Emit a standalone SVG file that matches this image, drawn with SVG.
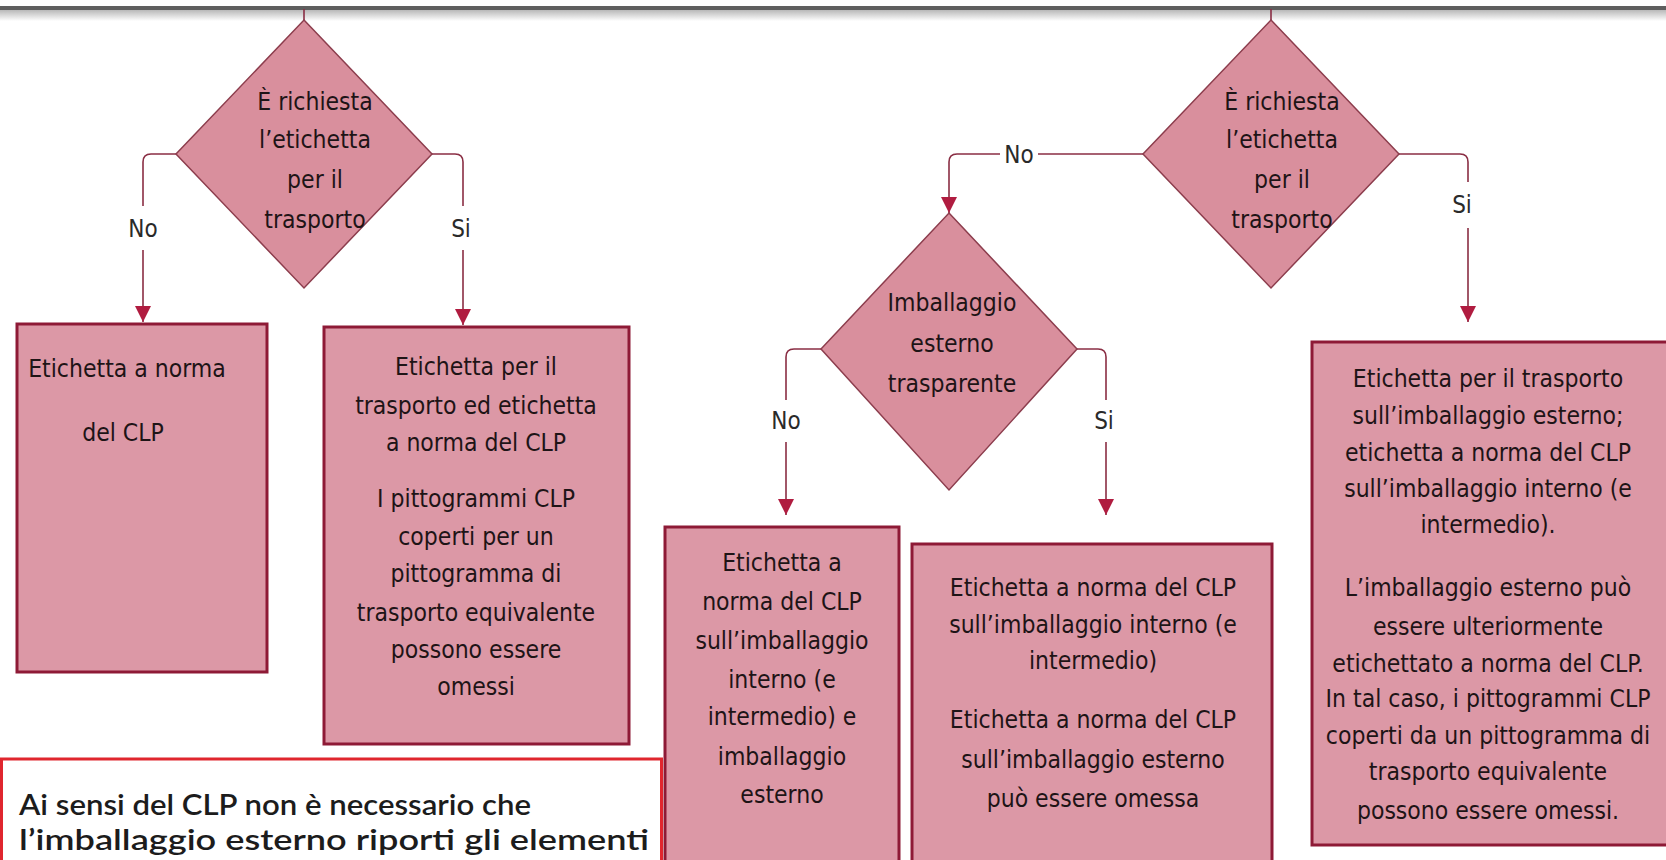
<svg xmlns="http://www.w3.org/2000/svg" width="1666" height="860" viewBox="0 0 1666 860">
<defs>
<style>
.dia{fill:#d98f9d;stroke:#8c3d4d;stroke-width:1.5}
.box{fill:#dc98a6;stroke:#8e1a36;stroke-width:3}
.t{font-family:"DejaVu Sans Condensed","DejaVu Sans",sans-serif;font-stretch:condensed;font-size:24.5px;fill:#1e1416;text-anchor:middle}
.lbl{font-family:"DejaVu Sans Condensed","DejaVu Sans",sans-serif;font-stretch:condensed;font-size:24px;fill:#2a2a2a;text-anchor:middle}
.conn{fill:none;stroke:#8a2e44;stroke-width:1.6}
.note{font-family:Lato,"Liberation Sans",sans-serif;font-size:28px;font-weight:600;fill:#1c1c1c}
</style>
<marker id="arr" viewBox="0 0 16 16" refX="16" refY="8" markerWidth="16" markerHeight="16" orient="auto" markerUnits="userSpaceOnUse">
<path d="M0,0 L16,8 L0,16 z" fill="#b01c40"/>
</marker>
<linearGradient id="shade" x1="0" y1="0" x2="0" y2="1">
<stop offset="0" stop-color="#b8b8b8"/>
<stop offset="1" stop-color="#ffffff"/>
</linearGradient>
</defs>
<rect width="1666" height="860" fill="#ffffff"/>
<g id="topbar">
<rect x="0" y="6" width="1666" height="4" fill="#5e5e5e"/>
<rect x="0" y="10" width="1666" height="11" fill="url(#shade)"/>
</g>
<g id="connectors">
<path class="conn" d="M304,9 V20"/>
<path class="conn" d="M1271,9 V20"/>
<path class="conn" d="M176,154 H151 Q143,154 143,162 V206 M143,250 V322" marker-end="url(#arr)"/>
<path class="conn" d="M432,154 H455 Q463,154 463,162 V206 M463,250 V325" marker-end="url(#arr)"/>
<path class="conn" d="M1143,154 H1038 M1000,154 H957 Q949,154 949,162 V213" marker-end="url(#arr)"/>
<path class="conn" d="M1399,154 H1460 Q1468,154 1468,162 V182 M1468,228 V322" marker-end="url(#arr)"/>
<path class="conn" d="M821,349 H794 Q786,349 786,357 V400 M786,442 V515" marker-end="url(#arr)"/>
<path class="conn" d="M1077,349 H1098 Q1106,349 1106,357 V400 M1106,442 V515" marker-end="url(#arr)"/>
<text class="lbl" x="143" y="237">No</text>
<text class="lbl" x="461" y="237">Si</text>
<text class="lbl" x="1019" y="163">No</text>
<text class="lbl" x="1462" y="213">Si</text>
<text class="lbl" x="786" y="429">No</text>
<text class="lbl" x="1104" y="429">Si</text>
</g>
<g id="d1">
<polygon class="dia" points="304,20 432,154 304,288 176,154"/>
<text class="t" x="315" y="110">È richiesta</text>
<text class="t" x="315" y="148">l’etichetta</text>
<text class="t" x="315" y="188">per il</text>
<text class="t" x="315" y="228">trasporto</text>
</g>
<g id="d2">
<polygon class="dia" points="1271,20 1399,154 1271,288 1143,154"/>
<text class="t" x="1282" y="110">È richiesta</text>
<text class="t" x="1282" y="148">l’etichetta</text>
<text class="t" x="1282" y="188">per il</text>
<text class="t" x="1282" y="228">trasporto</text>
</g>
<g id="d3">
<polygon class="dia" points="949,213 1077,349 949,490 821,349"/>
<text class="t" x="952" y="311">Imballaggio</text>
<text class="t" x="952" y="352">esterno</text>
<text class="t" x="952" y="392">trasparente</text>
</g>
<g id="box1">
<rect class="box" x="17" y="324" width="250" height="348"/>
<text class="t" x="127" y="377">Etichetta a norma</text>
<text class="t" x="123" y="441">del CLP</text>
</g>
<g id="box2">
<rect class="box" x="324" y="327" width="305" height="417"/>
<text class="t" x="476" y="375">Etichetta per il</text>
<text class="t" x="476" y="414">trasporto ed etichetta</text>
<text class="t" x="476" y="451">a norma del CLP</text>
<text class="t" x="476" y="507">I pittogrammi CLP</text>
<text class="t" x="476" y="545">coperti per un</text>
<text class="t" x="476" y="582">pittogramma di</text>
<text class="t" x="476" y="621">trasporto equivalente</text>
<text class="t" x="476" y="658">possono essere</text>
<text class="t" x="476" y="695">omessi</text>
</g>
<g id="box4">
<rect class="box" x="665" y="527" width="234" height="400"/>
<text class="t" x="782" y="571">Etichetta a</text>
<text class="t" x="782" y="610">norma del CLP</text>
<text class="t" x="782" y="649">sull’imballaggio</text>
<text class="t" x="782" y="688">interno (e</text>
<text class="t" x="782" y="725">intermedio) e</text>
<text class="t" x="782" y="765">imballaggio</text>
<text class="t" x="782" y="803">esterno</text>
</g>
<g id="box5">
<rect class="box" x="912" y="544" width="360" height="400"/>
<text class="t" x="1093" y="596">Etichetta a norma del CLP</text>
<text class="t" x="1093" y="633">sull’imballaggio interno (e</text>
<text class="t" x="1093" y="669">intermedio)</text>
<text class="t" x="1093" y="728">Etichetta a norma del CLP</text>
<text class="t" x="1093" y="768">sull’imballaggio esterno</text>
<text class="t" x="1093" y="807">può essere omessa</text>
</g>
<g id="box6">
<rect class="box" x="1312" y="342" width="400" height="503"/>
<text class="t" x="1488" y="387">Etichetta per il trasporto</text>
<text class="t" x="1488" y="424">sull’imballaggio esterno;</text>
<text class="t" x="1488" y="461">etichetta a norma del CLP</text>
<text class="t" x="1488" y="497">sull’imballaggio interno (e</text>
<text class="t" x="1488" y="533">intermedio).</text>
<text class="t" x="1488" y="596">L’imballaggio esterno può</text>
<text class="t" x="1488" y="635">essere ulteriormente</text>
<text class="t" x="1488" y="672">etichettato a norma del CLP.</text>
<text class="t" x="1488" y="707">In tal caso, i pittogrammi CLP</text>
<text class="t" x="1488" y="744">coperti da un pittogramma di</text>
<text class="t" x="1488" y="780">trasporto equivalente</text>
<text class="t" x="1488" y="819">possono essere omessi.</text>
</g>
<g id="note">
<rect x="1.5" y="759" width="660" height="200" fill="#ffffff" stroke="#e0262e" stroke-width="3"/>
<text class="note" x="19" y="815" textLength="512" lengthAdjust="spacingAndGlyphs">Ai sensi del CLP non è necessario che</text>
<text class="note" x="19" y="850" textLength="630" lengthAdjust="spacingAndGlyphs">l’imballaggio esterno riporti gli elementi</text>
</g>
</svg>
